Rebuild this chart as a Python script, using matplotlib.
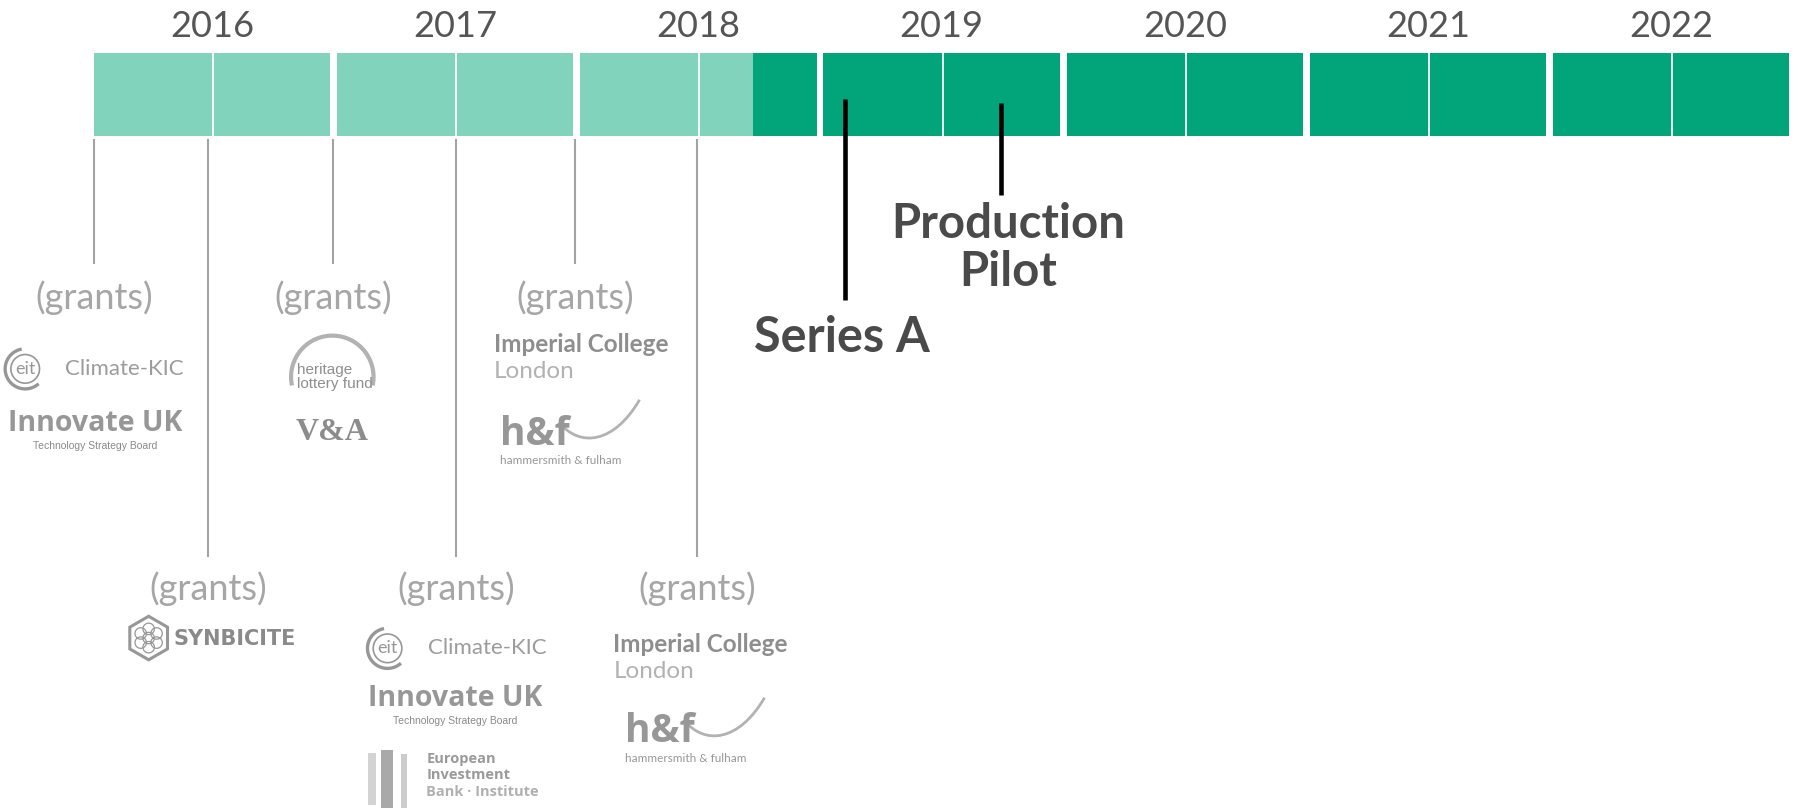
import math
import matplotlib
matplotlib.use('Agg')
import matplotlib.pyplot as plt
from matplotlib.patches import Polygon, Rectangle, PathPatch
from matplotlib.path import Path

# ---------------- data ----------------
years = [2016, 2017, 2018, 2019, 2020, 2021, 2022]
year_labels = ['2016', '2017', '2018', '2019', '2020', '2021', '2022']
half_split = 0.49          # divider between the two halves of a year
year_span = 0.972          # visible part of each year block
funded_until = 2018.71     # grant-funded phase (light colour) ends here

grant_dates = [2016.0, 2016.47, 2016.985, 2017.49, 2017.98, 2018.48]
grant_labels = ['(grants)'] * 6
grant_row = ['upper', 'lower', 'upper', 'lower', 'upper', 'lower']
grant_sponsors = [
    ['EIT Climate-KIC', 'Innovate UK'],
    ['SynBiCITE'],
    ['Heritage Lottery Fund', 'V&A'],
    ['EIT Climate-KIC', 'Innovate UK', 'European Investment Bank Institute'],
    ['Imperial College London', 'Hammersmith & Fulham'],
    ['Imperial College London', 'Hammersmith & Fulham'],
]

milestone_labels = ['Series A', 'Production Pilot']
milestone_dates = [2019.09, 2019.73]

# ---------------- style ----------------
LIGHT = '#81d3bb'
DARK = '#02a57a'
GREY_TXT = '#a6a6a6'
LOGO = '#979797'
LOGO_L = '#b2b2b2'
PPY = 212.3                  # layout px per year
X0 = 2016 - 82 / PPY

fig = plt.figure(figsize=(17.96, 8.11), dpi=100)
ax = fig.add_axes([0, 0, 1, 1])
ax.set_xlim(X0, X0 + 1568 / PPY)
ax.set_ylim(708, 0)
ax.axis('off')

def dx(p):
    return p / PPY

def arc(cx, cy, r, a1, a2, lw, color, n=80):
    xs, ys = [], []
    for i in range(n + 1):
        a = math.radians(a1 + (a2 - a1) * i / n)
        xs.append(cx + dx(r * math.cos(a)))
        ys.append(cy - r * math.sin(a))
    ax.plot(xs, ys, color=color, lw=lw, solid_capstyle='butt')

# ---------------- timeline bar ----------------
BAR_TOP, BAR_BOT = 46.5, 118.5
for y, lab in zip(years, year_labels):
    segs = [(y, y + half_split), (y + half_split, y + year_span)]
    for a, b in segs:
        if b <= funded_until:
            parts = [(a, b, LIGHT)]
        elif a >= funded_until:
            parts = [(a, b, DARK)]
        else:
            parts = [(a, funded_until, LIGHT), (funded_until, b, DARK)]
        for s, e, c in parts:
            ax.barh((BAR_TOP + BAR_BOT) / 2, e - s, left=s, height=BAR_BOT - BAR_TOP,
                    color=c, edgecolor='none', zorder=2)
    ax.plot([y + half_split] * 2, [BAR_TOP, BAR_BOT], color='white', lw=1.3, zorder=3)
    ax.text(y + year_span / 2, 32, lab, ha='center', va='baseline', fontsize=26,
            family='Lato', color='#555555')

# ---------------- grant event lines ----------------
for gx, row in zip(grant_dates, grant_row):
    end = 230 if row == 'upper' else 485
    ax.plot([gx, gx], [122, end], color='#a3a3a3', lw=1.5, zorder=1)

for gx, row, lab in zip(grant_dates, grant_row, grant_labels):
    base = 270 if row == 'upper' else 524
    ax.text(gx, base, lab, ha='center', va='baseline', fontsize=26, family='Lato',
            color=GREY_TXT)

# ---------------- logo helpers ----------------
def eit_climate(cx, cy):
    arc(cx, cy, 12.5, 0, 360, 1.2, LOGO)
    arc(cx, cy, 17.5, 100, 312, 2.4, LOGO)
    ax.text(cx, cy, 'eit', ha='center', va='center', fontsize=13, family='Lato', color=LOGO)
    ax.text(cx + dx(35), cy, 'Climate-KIC', ha='left', va='center', fontsize=16,
            family='Lato', color='#9c9c9c')

def innovate(cx, cy):
    ax.text(cx, cy, 'Innovate UK', ha='center', va='center', fontsize=20.5,
            family='Open Sans', fontweight='bold', color=LOGO)
    ax.text(cx, cy + 19, 'Technology Strategy Board', ha='center', va='center',
            fontsize=7.5, family='Liberation Sans', color='#8a8a8a')

def heritage(cx, cy):
    arc(cx, cy + 2, 36, -12, 192, 3, LOGO_L)
    ax.text(cx - dx(31), cy - 4, 'heritage', ha='left', va='center', fontsize=11,
            family='Liberation Sans', color='#8e8e8e')
    ax.text(cx - dx(31), cy + 8, 'lottery fund', ha='left', va='center', fontsize=11,
            family='Liberation Sans', color='#8e8e8e')

def va_logo(cx, cy):
    ax.text(cx, cy, 'V&A', ha='center', va='center', fontsize=23,
            family='Liberation Serif', fontweight='bold', color='#8c8c8c')

def imperial(lx, cy):
    ax.text(lx, cy, 'Imperial College', ha='left', va='center', fontsize=17.5,
            family='Lato', fontweight='bold', color='#8e8e8e')
    ax.text(lx, cy + 23, 'London', ha='left', va='center', fontsize=17.5,
            family='Lato', color=LOGO_L)

def hf(lx, cy):
    ax.text(lx, cy - 2, 'h&f', ha='left', va='center', fontsize=28,
            family='Open Sans', fontweight='bold', color='#979797')
    pts = [(lx + dx(52), cy - 12), (lx + dx(70), cy + 10),
           (lx + dx(100), cy + 6), (lx + dx(122), cy - 32)]
    path = Path(pts, [Path.MOVETO, Path.CURVE4, Path.CURVE4, Path.CURVE4])
    ax.add_patch(PathPatch(path, fill=False, lw=2, color=LOGO_L))
    ax.text(lx, cy + 21, 'hammersmith & fulham', ha='left', va='center', fontsize=8.5,
            family='Lato', color=LOGO)

def synbicite(cx, cy):
    r = 19
    verts = [(cx + dx(r * math.cos(math.radians(90 + 60 * k))),
              cy - r * math.sin(math.radians(90 + 60 * k))) for k in range(6)]
    ax.add_patch(Polygon(verts, closed=True, fill=False, lw=2.2, color=LOGO))
    arc(cx, cy, 5, 0, 360, 0.9, LOGO, 30)
    for k in range(6):
        a = math.radians(30 + 60 * k)
        arc(cx + dx(8 * math.cos(a)), cy - 8 * math.sin(a), 5, 0, 360, 0.9, LOGO, 30)
    ax.text(cx + dx(22), cy + 1, 'SYNBICITE', ha='left', va='center', fontsize=15,
            family='DejaVu Sans', fontweight='heavy', color='#8a8a8a')

def eib(lx, top):
    ax.add_patch(Rectangle((lx, top + 2), dx(7), 46, color='#d3d3d3', lw=0))
    ax.add_patch(Rectangle((lx + dx(11), top), dx(11), 50, color='#a9a9a9', lw=0))
    ax.add_patch(Rectangle((lx + dx(29), top + 3), dx(5), 47, color='#cccccc', lw=0))
    tx = lx + dx(51)
    ax.text(tx, top + 8, 'European', ha='left', va='center', fontsize=10.5,
            family='Open Sans', fontweight='bold', color='#9a9a9a')
    ax.text(tx, top + 22, 'Investment', ha='left', va='center', fontsize=10.5,
            family='Open Sans', fontweight='bold', color='#9a9a9a')
    ax.text(tx, top + 36, 'Bank · Institute', ha='left', va='center', fontsize=10.5,
            family='Open Sans', fontweight='bold', color='#b0b0b0')

# ---------------- sponsor logos ----------------
g = grant_dates
eit_climate(g[0] - dx(60), 322)
innovate(g[0] + dx(1), 370)

synbicite(g[1] - dx(52), 557)

heritage(g[2] - dx(1), 327)
va_logo(g[2] - dx(1), 378)

eit_climate(g[3] - dx(60), 566)
innovate(g[3] - dx(1), 610)
eib(g[3] - dx(77), 655)

imperial(g[4] - dx(71), 301)
hf(g[4] - dx(66), 381)

imperial(g[5] - dx(73), 563)
hf(g[5] - dx(63), 641)

# ---------------- milestones ----------------
ax.plot([milestone_dates[0]] * 2, [86, 262], color='black', lw=3.3, zorder=4,
        solid_capstyle='butt')
ax.plot([milestone_dates[1]] * 2, [90, 170], color='black', lw=3.3, zorder=4,
        solid_capstyle='butt')
ax.text(milestone_dates[0] - dx(3), 307, milestone_labels[0], ha='center', va='baseline',
        fontsize=35, family='Lato', fontweight='bold', color='#4a4a4a')
w1, w2 = milestone_labels[1].split(' ')
ax.text(milestone_dates[1] + dx(6), 208, w1, ha='center', va='baseline',
        fontsize=34, family='Lato', fontweight='bold', color='#4a4a4a')
ax.text(milestone_dates[1] + dx(6), 250, w2, ha='center', va='baseline',
        fontsize=34, family='Lato', fontweight='bold', color='#4a4a4a')

fig.savefig('out.png', dpi=100, facecolor='white')
